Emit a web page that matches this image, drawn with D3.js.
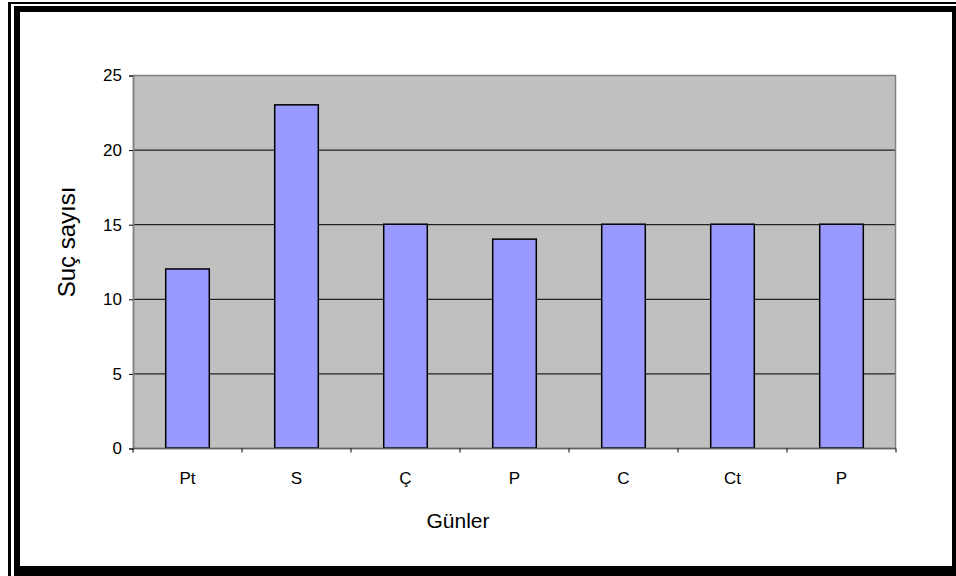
<!DOCTYPE html>
<html>
<head>
<meta charset="utf-8">
<script src="https://cdn.jsdelivr.net/npm/d3@7"></script>
<style>
  body { margin: 0; background: #fff; }
  svg text { font-family: "Liberation Sans", Arial, sans-serif; fill: #000; }
</style>
</head>
<body>
<svg id="chart" width="956" height="576"></svg>
<script>
var days = ["Pt", "S", "Ç", "P", "C", "Ct", "P"];
var crimeCounts = [12, 23, 15, 14, 15, 15, 15];
var yTicks = [0, 5, 10, 15, 20, 25];

var colors = {
    "plot": "#C0C0C0",
    "bar": "#9999FF",
    "grid": "#222222",
    "border": "#808080"
};

(function () {
    'use strict';
    const svg = d3.select("#chart");

    // double frame around the chart
    svg.append("rect").attr("x", 8).attr("y", 2).attr("width", 960).attr("height", 590).attr("fill", "#000");
    svg.append("rect").attr("x", 11).attr("y", 4).attr("width", 960).attr("height", 590).attr("fill", "#fff");
    svg.append("rect").attr("x", 14).attr("y", 6).attr("width", 960).attr("height", 590).attr("fill", "#000");
    svg.append("rect").attr("x", 20).attr("y", 12).attr("width", 932).attr("height", 554).attr("fill", "#fff");

    const left = 133, top = 75, right = 896, bottom = 448;

    // band per category, indexed so the two "P" days stay separate
    const x = d3.scaleBand()
        .domain(d3.range(days.length))
        .range([left, right])
        .paddingInner(0.6)
        .paddingOuter(0.3);

    const y = d3.scaleLinear()
        .domain([0, 25])
        .range([bottom, top]);

    svg.append("rect")
        .attr("x", left).attr("y", top)
        .attr("width", right - left).attr("height", bottom - top)
        .attr("fill", colors.plot);

    svg.append("g").selectAll("line")
        .data(yTicks.filter(function (d) { return d > 0 && d < 25; }))
        .enter().append("line")
        .attr("x1", left).attr("x2", right)
        .attr("y1", function (d) { return y(d) + 0.5; })
        .attr("y2", function (d) { return y(d) + 0.5; })
        .attr("stroke", colors.grid)
        .attr("stroke-width", 1.2);

    svg.append("rect")
        .attr("x", left + 0.5).attr("y", top + 0.5)
        .attr("width", right - left - 1).attr("height", bottom - top)
        .attr("fill", "none")
        .attr("stroke", colors.border)
        .attr("stroke-width", 1.5);

    svg.append("g").selectAll("rect")
        .data(crimeCounts)
        .enter().append("rect")
        .attr("x", function (d, i) { return x(i); })
        .attr("y", function (d) { return y(d); })
        .attr("width", x.bandwidth())
        .attr("height", function (d) { return y(0) - y(d); })
        .attr("fill", colors.bar)
        .attr("stroke", "#000")
        .attr("stroke-width", 1.5);

    // y axis
    const yAxis = svg.append("g")
        .attr("transform", "translate(" + left + ",0.5)")
        .call(d3.axisLeft(y).tickValues(yTicks).tickSize(4).tickPadding(7));
    yAxis.select(".domain").attr("stroke", colors.border).attr("stroke-width", 1.5);
    yAxis.selectAll(".tick line").attr("stroke", "#000");
    yAxis.selectAll(".tick text").attr("font-size", 17).attr("font-family", "Liberation Sans, Arial, sans-serif");

    // x axis: ticks sit on category boundaries, labels in the middle
    const step = (right - left) / days.length;
    const xAxis = svg.append("g").attr("transform", "translate(0," + (bottom + 0.5) + ")");
    xAxis.append("line")
        .attr("x1", left).attr("x2", right)
        .attr("stroke", "#606060").attr("stroke-width", 1.5);
    xAxis.selectAll(".tk")
        .data(d3.range(days.length + 1))
        .enter().append("line")
        .attr("class", "tk")
        .attr("x1", function (d) { return left + d * step; })
        .attr("x2", function (d) { return left + d * step; })
        .attr("y1", 0).attr("y2", 4)
        .attr("stroke", "#000");
    xAxis.selectAll("text")
        .data(days)
        .enter().append("text")
        .attr("x", function (d, i) { return x(i) + x.bandwidth() / 2; })
        .attr("y", 35)
        .attr("text-anchor", "middle")
        .attr("font-size", 17)
        .text(function (d) { return d; });

    svg.append("text")
        .attr("x", 458).attr("y", 528)
        .attr("text-anchor", "middle")
        .attr("font-size", 21)
        .text("Günler");

    svg.append("text")
        .attr("transform", "translate(75,242) rotate(-90)")
        .attr("text-anchor", "middle")
        .attr("font-size", 24)
        .text("Suç sayısı");
})();
</script>
</body>
</html>
